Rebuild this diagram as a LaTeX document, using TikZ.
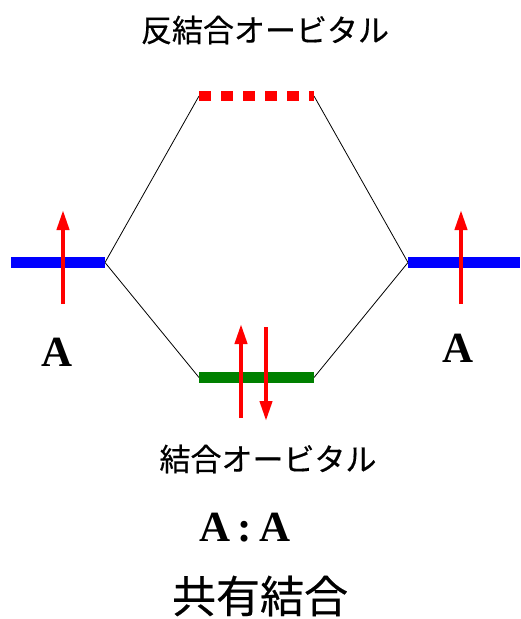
\documentclass[tikz,border=0pt]{standalone}
\usepackage{fontspec}
\setmainfont{Liberation Serif}
\newfontfamily\jpfont[FakeBold=0.4]{Noto Sans CJK JP}
\usetikzlibrary{arrows.meta}
\tikzset{
  level/.style={line width=10.5pt},
  conn/.style={line width=0.8pt, black},
  spin/.style={red, line width=4pt, -{Triangle[width=12pt,length=20pt]}},
  jplabel/.style={font=\jpfont\fontsize{31}{36}\selectfont, inner sep=0pt},
  atom/.style={font=\bfseries\fontsize{43}{48}\selectfont, inner sep=0pt}
}
\begin{document}
\begin{tikzpicture}[x=1pt,y=-1pt]
\useasboundingbox (0,0) rectangle (520,619);
% level end points
\coordinate (L1) at (11,262.5);
\coordinate (L2) at (105,262.5);
\coordinate (R1) at (408,262.5);
\coordinate (R2) at (520,262.5);
\coordinate (AB1) at (199,96);
\coordinate (AB2) at (314,96);
\coordinate (B1) at (199,377.5);
\coordinate (B2) at (314,377.5);
% connectors
\draw[conn] (L2) -- (AB1);
\draw[conn] (L2) -- (B1);
\draw[conn] (AB2) -- (R1);
\draw[conn] (B2) -- (R1);
% levels
\draw[level, blue] (L1) -- (L2);
\draw[level, blue] (R1) -- (R2);
\draw[level, green!50!black] (B1) -- (B2);
\draw[level, red, dash pattern=on 11.5pt off 10.5pt] (AB1) -- (AB2);
% spins
\coordinate (la0) at (63,304); \coordinate (la1) at (63,210);
\coordinate (ra0) at (461,304); \coordinate (ra1) at (461,210);
\coordinate (bu0) at (241,418); \coordinate (bu1) at (241,324);
\coordinate (bd0) at (266,327); \coordinate (bd1) at (266,421);
\draw[spin] (la0) -- (la1);
\draw[spin] (ra0) -- (ra1);
\draw[spin] (bu0) -- (bu1);
\draw[spin] (bd0) -- (bd1);
% labels
\node[jplabel] (anti) at (265,30) {反結合オービタル};
\node[jplabel] (bond) at (268,459) {結合オービタル};
\node[atom] (A1) at (57.5,352) {A};
\node[atom] (A2) at (458,348.5) {A};
\node[atom] (AA) at (245,528) {A\,:\,A};
\node[font=\jpfont\fontsize{44}{50}\selectfont, inner sep=0pt] (cov) at (260,596) {共有結合};
\end{tikzpicture}
\end{document}
